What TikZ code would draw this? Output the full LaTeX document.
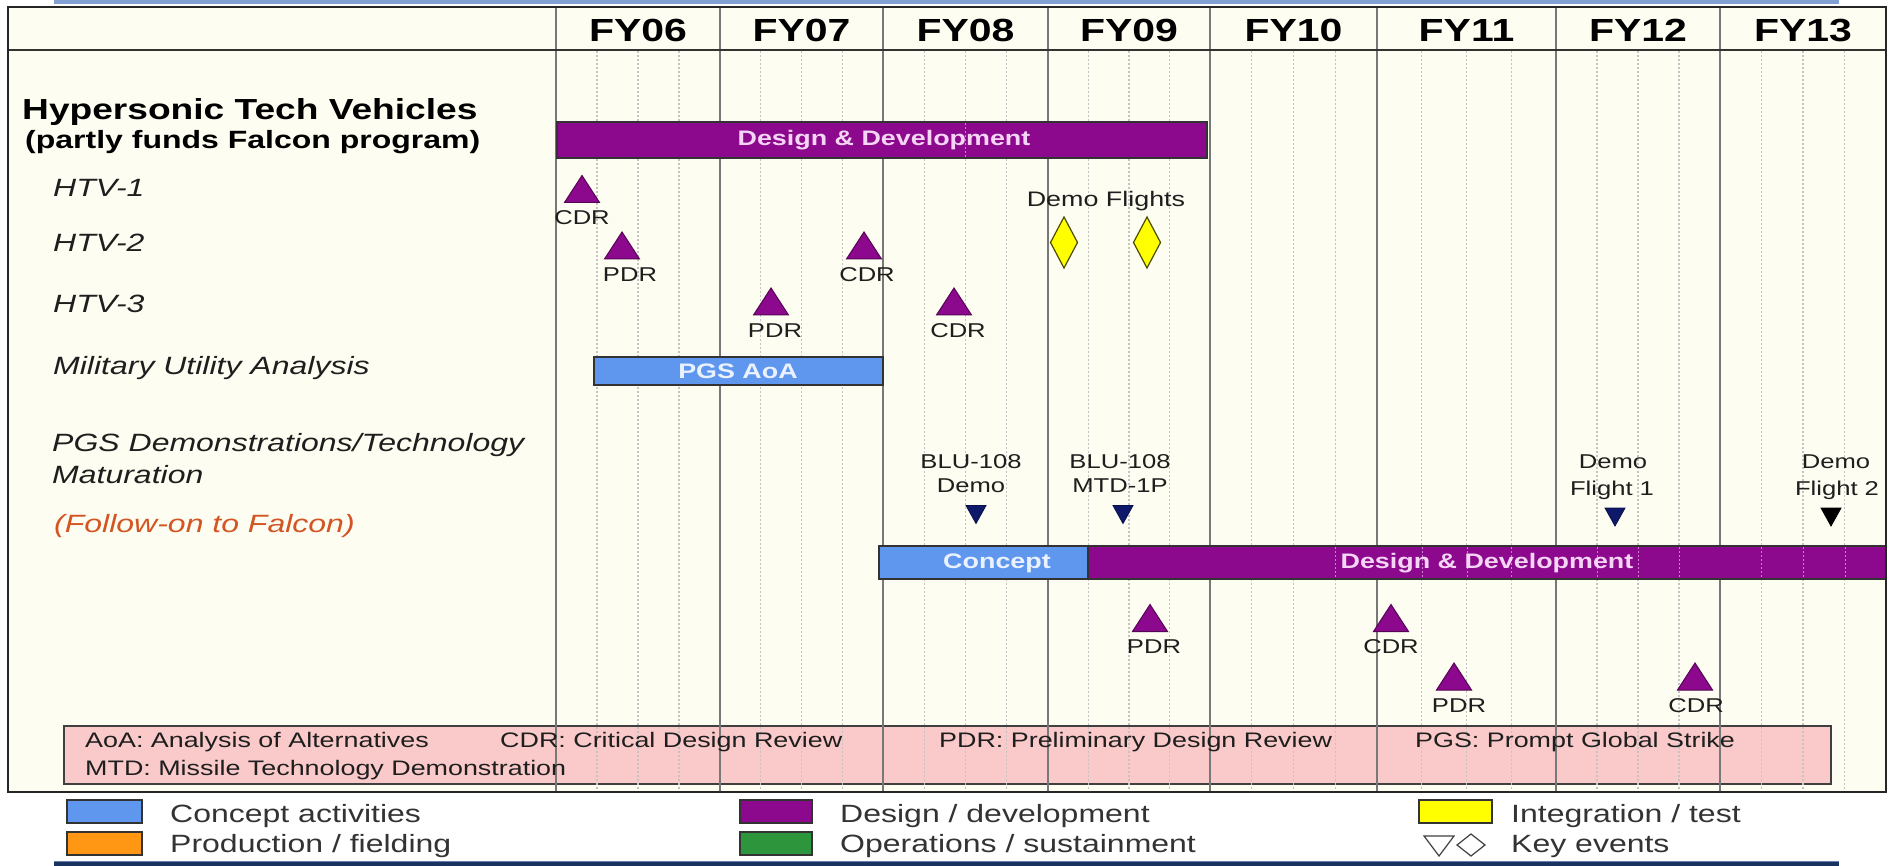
\documentclass[tikz,border=0pt]{standalone}
\usepackage{fontspec}
\setmainfont[FakeStretch=1.28]{Liberation Sans}
\definecolor{cream}{RGB}{253,253,241}
\definecolor{purp}{RGB}{140,8,140}
\definecolor{cblue}{RGB}{95,150,238}
\definecolor{pinkbox}{RGB}{250,202,202}
\definecolor{navy}{RGB}{15,25,105}
\definecolor{orng}{RGB}{255,150,20}
\definecolor{grn}{RGB}{45,150,60}
\definecolor{ylw}{RGB}{255,255,0}
\definecolor{gridc}{RGB}{120,120,120}
\definecolor{dotc}{RGB}{195,195,195}
\definecolor{txt}{RGB}{30,30,30}
\definecolor{follow}{RGB}{210,85,35}
\definecolor{barpink}{RGB}{245,212,245}
\definecolor{barblue}{RGB}{235,242,255}
\definecolor{topband}{RGB}{130,160,210}
\definecolor{botband}{RGB}{25,50,95}
\newcommand\myfs[1]{\fontsize{#1}{#1}\selectfont}
\begin{document}
\begin{tikzpicture}[x=1pt,y=-1pt,
  lbl/.style={inner sep=0, anchor=base west, text=txt, font=\myfs{25}\itshape},
  yr/.style={inner sep=0, anchor=base, font=\myfs{32}\bfseries},
  barbox/.style={draw=black!80, line width=1.2},
  bartext/.style={inner sep=0, font=\myfs{21}\bfseries},
  evt/.style={inner sep=0, anchor=base, font=\myfs{20}, text=txt},
  abbr/.style={inner sep=0, anchor=base west, font=\myfs{21}, text=txt},
  leg/.style={inner sep=0, anchor=base west, font=\myfs{25}, text=black!80},
  legbox/.style={draw=black!80, line width=1.2},
  solidgrid/.style={draw=gridc, line width=1.3},
  dotgrid/.style={draw=dotc, line width=1.2, dash pattern=on 2pt off 2pt},
  bardot/.style={draw=barpink, line width=1, dash pattern=on 2pt off 2pt, opacity=0.6},
  uptri/.pic={\filldraw[fill=purp, draw=purp!60!black, line width=1] (-17.5,13.5) -- (0,-13.5) -- (17.5,13.5) -- cycle;},
  dntri/.pic={\filldraw[fill=navy, draw=navy!70!black, line width=0.8] (-10,-9) -- (10,-9) -- (0,9) -- cycle;},
  dntriblk/.pic={\filldraw[fill=black, draw=black, line width=0.8] (-10,-9) -- (10,-9) -- (0,9) -- cycle;},
  diam/.pic={\filldraw[fill=ylw, draw=black!70!ylw, line width=1.2] (0,-25.5) -- (13.5,0) -- (0,25.5) -- (-13.5,0) -- cycle;}
]
\useasboundingbox (0,0) rectangle (1891,866);
\fill[white] (0,0) rectangle (1891,866);
% bands
\fill[topband] (54,0) rectangle (1839,4);
\fill[botband] (54,861) rectangle (1839,866);
\draw[topband!70!botband, line width=1] (54,861) -- (1839,861);
% chart background
\fill[cream] (8,7) rectangle (1886,792);
% pink abbreviations box
\filldraw[fill=pinkbox, draw=black!75, line width=1.2] (64,726) rectangle (1831,784);
% grid
\foreach \a/\b in {556/720,720/883,883/1048,1048/1210,1210/1377,1377/1556,1556/1720,1720/1886}{
  \foreach \k in {1,2,3}{
    \draw[dotgrid] ({\a+\k*(\b-\a)/4},51) -- ({\a+\k*(\b-\a)/4},791);
  }
}
\foreach \x in {556,720,883,1048,1210,1377,1556,1720}{
  \draw[solidgrid] (\x,7) -- (\x,792);
}
\draw[line width=2, black!80] (8,50) -- (1886,50);
% year labels
\node[yr] (fy06) at (638,42) {FY06};
\node[yr] (fy07) at (801.5,42) {FY07};
\node[yr] (fy08) at (965.5,42) {FY08};
\node[yr] (fy09) at (1129,42) {FY09};
\node[yr] (fy10) at (1293.5,42) {FY10};
\node[yr] (fy11) at (1466.5,42) {FY11};
\node[yr] (fy12) at (1638,42) {FY12};
\node[yr] (fy13) at (1803,42) {FY13};
% left labels
\node[inner sep=0, anchor=base west, font=\myfs{29}\bfseries] (hyp) at (22,120) {Hypersonic Tech Vehicles};
\node[inner sep=0, anchor=base west, font=\myfs{25}\bfseries] (hyp2) at (25,149) {(partly funds Falcon program)};
\node[lbl] (htv1) at (53,197) {HTV-1};
\node[lbl] (htv2) at (53,252) {HTV-2};
\node[lbl] (htv3) at (53,313) {HTV-3};
\node[lbl] (mua) at (53,375) {Military Utility Analysis};
\node[lbl] (pgs) at (52,452) {PGS Demonstrations/Technology};
\node[lbl] (mat) at (52,483) {Maturation};
\node[lbl, text=follow] (fol) at (54,532) {(Follow-on to Falcon)};
% bars
\filldraw[barbox, fill=purp] (557,122) rectangle (1207,158);
\draw[bardot] (965,123) -- (965,157);
\node[bartext, text=barpink] (dd1) at (884,140) {Design \& Development};
\filldraw[barbox, fill=cblue] (594,357) rectangle (883,385);
\node[bartext, text=barblue] (aoa) at (738,371) {PGS AoA};
\filldraw[barbox, fill=purp] (1088,546) rectangle (1886,579);
\foreach \x in {1335,1422,1467,1511,1597,1638,1679,1761,1803,1845}{
  \draw[bardot] (\x,547) -- (\x,578);
}
\filldraw[barbox, fill=cblue] (879,546) rectangle (1088,579);
\node[bartext, text=barblue] (con) at (997,563) {Concept};
\node[bartext, text=barpink] (dd2) at (1487,563) {Design \& Development};
% triangles (milestones)
\pic (t1) at (582,189) {uptri};
\node[evt] (t1l) at (582,225) {CDR};
\pic (t2) at (622,245.5) {uptri};
\node[evt] (t2l) at (630,282) {PDR};
\pic (t3) at (864,245.5) {uptri};
\node[evt] (t3l) at (867,282) {CDR};
\pic (t4) at (771,301.5) {uptri};
\node[evt] (t4l) at (775,338) {PDR};
\pic (t5) at (954,301.5) {uptri};
\node[evt] (t5l) at (958,338) {CDR};
\pic (t6) at (1150,618) {uptri};
\node[evt] (t6l) at (1154,653) {PDR};
\pic (t7) at (1391,618) {uptri};
\node[evt] (t7l) at (1391,653) {CDR};
\pic (t8) at (1454,676.5) {uptri};
\node[evt] (t8l) at (1459,712) {PDR};
\pic (t9) at (1695,676.5) {uptri};
\node[evt] (t9l) at (1696,712) {CDR};
% demo flights
\node[evt, font=\myfs{21}] (dfl) at (1106,207) {Demo Flights};
\pic (d1) at (1064,242.5) {diam};
\pic (d2) at (1147,242.5) {diam};
% down triangles
\node[evt] (b1a) at (971,468) {BLU-108};
\node[evt] (b1b) at (971,493) {Demo};
\pic (b1) at (976,514.5) {dntri};
\node[evt] (b2a) at (1120,468) {BLU-108};
\node[evt] (b2b) at (1120,493) {MTD-1P};
\pic (b2) at (1123,514.5) {dntri};
\node[evt] (f1a) at (1613,469) {Demo};
\node[evt] (f1b) at (1612,495) {Flight 1};
\pic (f1) at (1615,517) {dntri};
\node[evt] (f2a) at (1836,469) {Demo};
\node[evt] (f2b) at (1837,495) {Flight 2};
\pic (f2) at (1831,517) {dntriblk};
% abbreviations
\node[abbr] (ab1) at (85,747) {AoA: Analysis of Alternatives};
\node[abbr] (ab2) at (500,747) {CDR: Critical Design Review};
\node[abbr] (ab3) at (939,747) {PDR: Preliminary Design Review};
\node[abbr] (ab4) at (1415,747) {PGS: Prompt Global Strike};
\node[abbr] (ab5) at (85,775) {MTD: Missile Technology Demonstration};
% frame
\draw[line width=2.6, black!85] (8,7) rectangle (1886,792);
% legend
\filldraw[legbox, fill=cblue] (67,800) rectangle (142,823);
\filldraw[legbox, fill=orng] (67,832) rectangle (142,855);
\filldraw[legbox, fill=purp] (740,800) rectangle (812,823);
\filldraw[legbox, fill=grn] (740,832) rectangle (812,855);
\filldraw[legbox, fill=ylw] (1419,800) rectangle (1492,823);
\draw[black!75, line width=1.2] (1424,836) -- (1454,836) -- (1439,856) -- cycle;
\draw[black!75, line width=1.2] (1471,834) -- (1485,845) -- (1471,856) -- (1457,845) -- cycle;
\node[leg] (l1) at (170,822) {Concept activities};
\node[leg] (l2) at (170,852) {Production / fielding};
\node[leg] (l3) at (840,822) {Design / development};
\node[leg] (l4) at (840,852) {Operations / sustainment};
\node[leg] (l5) at (1511,822) {Integration / test};
\node[leg] (l6) at (1511,852) {Key events};
\end{tikzpicture}
\end{document}
